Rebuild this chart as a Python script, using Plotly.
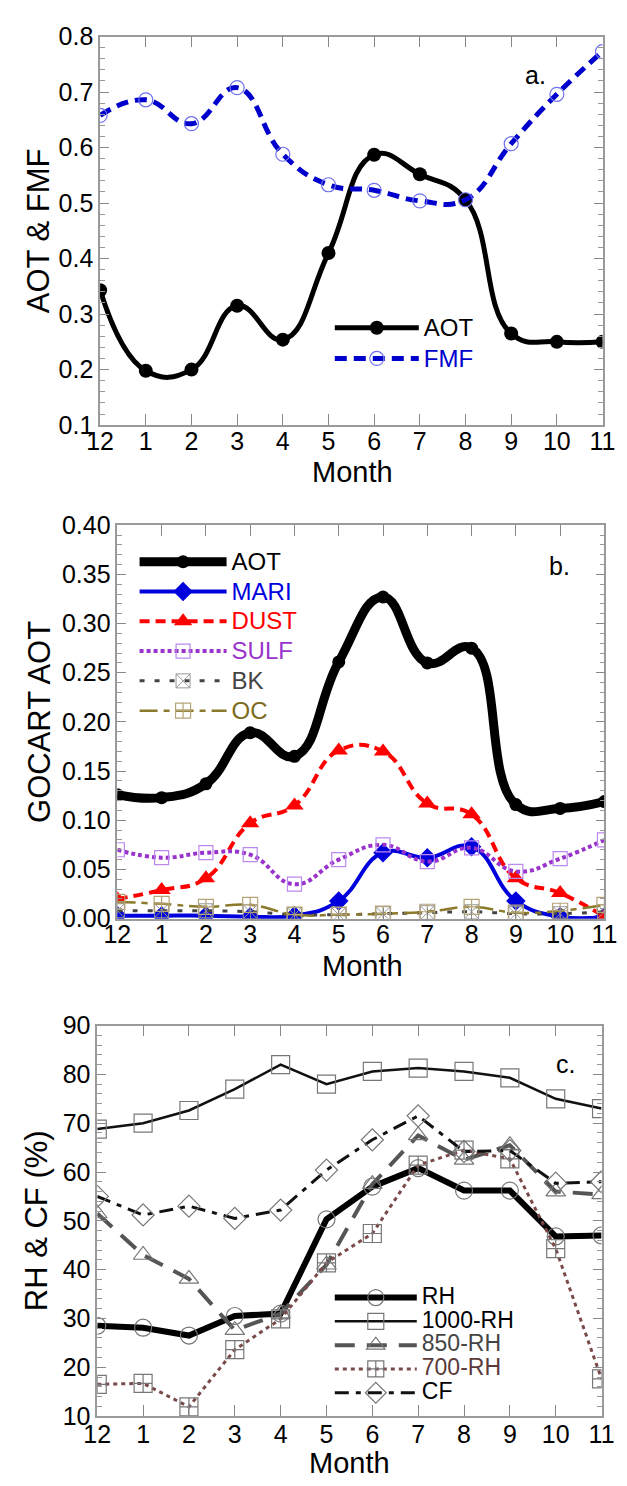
import plotly.graph_objects as go

months = ['12', '1', '2', '3', '4', '5', '6', '7', '8', '9', '10', '11']

# Panel a
aot_a = [0.343, 0.198, 0.200, 0.315, 0.254, 0.410, 0.587, 0.552, 0.506, 0.265, 0.250, 0.250]
fmf_a = [0.658, 0.686, 0.643, 0.708, 0.588, 0.533, 0.523, 0.504, 0.506, 0.607, 0.696, 0.773]

# Panel b (GOCART)
aot_b = [0.126, 0.123, 0.137, 0.189, 0.165, 0.261, 0.327, 0.260, 0.275, 0.116, 0.112, 0.119]
mari_b = [0.003, 0.003, 0.003, 0.002, 0.003, 0.018, 0.067, 0.062, 0.073, 0.018, 0.002, 0.002]
dust_b = [0.020, 0.029, 0.041, 0.097, 0.115, 0.171, 0.170, 0.117, 0.106, 0.041, 0.026, 0.002]
sulf_b = [0.070, 0.062, 0.067, 0.065, 0.035, 0.060, 0.075, 0.058, 0.072, 0.048, 0.061, 0.080]
bk_b = [0.008, 0.008, 0.008, 0.007, 0.004, 0.004, 0.005, 0.006, 0.007, 0.005, 0.005, 0.007]
oc_b = [0.017, 0.015, 0.012, 0.014, 0.004, 0.004, 0.005, 0.007, 0.012, 0.006, 0.008, 0.014]

# Panel c
rh_c = [28.5, 28.1, 26.5, 30.5, 31.0, 50.3, 57.0, 60.8, 56.2, 56.2, 46.8, 47.0]
rh1000_c = [68.8, 70.0, 72.6, 77.0, 82.0, 78.0, 80.6, 81.3, 80.6, 79.3, 75.0, 73.0]
rh850_c = [51.5, 43.0, 38.1, 27.6, 31.0, 41.0, 57.5, 67.5, 62.5, 65.5, 56.0, 55.4]
rh700_c = [16.5, 16.7, 11.9, 23.6, 29.9, 41.4, 47.4, 61.4, 64.5, 62.7, 44.3, 17.6]
cf_c = [55.0, 51.2, 53.0, 50.5, 52.2, 60.4, 66.6, 71.5, 64.2, 64.4, 57.7, 58.0]

FONT = 'Liberation Sans'
W, H = 627, 1486


def lab(txt, color='black', size=24):
    return '<span style="color:%s;font-size:%dpx">%s</span>' % (color, size, txt)


fig = go.Figure()

# ---- Panel a
fig.add_trace(go.Scatter(x=months, y=aot_a, name=lab('AOT'), xaxis='x', yaxis='y', legend='legend',
                         mode='lines+markers', line=dict(color='black', width=5, shape='spline', smoothing=1.3),
                         marker=dict(symbol='circle', size=14, color='black')))
fig.add_trace(go.Scatter(x=months, y=fmf_a, name=lab('FMF', '#0000cc'), xaxis='x', yaxis='y', legend='legend',
                         mode='lines+markers',
                         line=dict(color='#0000cc', width=5, dash='12px,7px', shape='spline', smoothing=1.3),
                         marker=dict(symbol='circle-open', size=14, color='#7070ee', line=dict(width=1.2))))

# ---- Panel b
fig.add_trace(go.Scatter(x=months, y=aot_b, name=lab('AOT'), xaxis='x2', yaxis='y2', legend='legend2',
                         mode='lines+markers', line=dict(color='black', width=9, shape='spline', smoothing=1.3),
                         marker=dict(symbol='circle', size=13, color='black')))
fig.add_trace(go.Scatter(x=months, y=mari_b, name=lab('MARI', '#0000dd'), xaxis='x2', yaxis='y2', legend='legend2',
                         mode='lines+markers', line=dict(color='#0000dd', width=4, shape='spline', smoothing=1.3),
                         marker=dict(symbol='diamond', size=15, color='#0000dd')))
fig.add_trace(go.Scatter(x=months, y=dust_b, name=lab('DUST', '#ff0000'), xaxis='x2', yaxis='y2', legend='legend2',
                         mode='lines+markers',
                         line=dict(color='#ff0000', width=4, dash='10px,6px', shape='spline', smoothing=1.3),
                         marker=dict(symbol='triangle-up', size=16, color='#ff0000')))
fig.add_trace(go.Scatter(x=months, y=sulf_b, name=lab('SULF', '#9933cc'), xaxis='x2', yaxis='y2', legend='legend2',
                         mode='lines+markers',
                         line=dict(color='#9933cc', width=4, dash='4px,3px', shape='spline', smoothing=1.3),
                         marker=dict(symbol='square-open', size=14, color='#bb88ee', line=dict(width=1.2))))
fig.add_trace(go.Scatter(x=months, y=bk_b, name=lab('BK', '#444444'), xaxis='x2', yaxis='y2', legend='legend2',
                         mode='lines+markers',
                         line=dict(color='#444444', width=3, dash='5px,10px', shape='spline', smoothing=1.3),
                         marker=dict(symbol='square-x-open', size=14, color='#999999', line=dict(width=1))))
fig.add_trace(go.Scatter(x=months, y=oc_b, name=lab('OC', '#7d6a1a'), xaxis='x2', yaxis='y2', legend='legend2',
                         mode='lines+markers',
                         line=dict(color='#8b7a2b', width=2.5, dash='18px,6px,6px,6px', shape='spline', smoothing=1.3),
                         marker=dict(symbol='square-cross-open', size=15, color='#b5a378', line=dict(width=1.2))))

# ---- Panel c
fig.add_trace(go.Scatter(x=months, y=rh_c, name=lab('RH', 'black', 23), xaxis='x3', yaxis='y3', legend='legend3',
                         mode='lines+markers', line=dict(color='black', width=6),
                         marker=dict(symbol='circle-open', size=17, color='#777777', line=dict(width=1.2))))
fig.add_trace(go.Scatter(x=months, y=rh1000_c, name=lab('1000-RH', 'black', 23), xaxis='x3', yaxis='y3',
                         legend='legend3', mode='lines+markers', line=dict(color='#111111', width=2.5),
                         marker=dict(symbol='square-open', size=18, color='#777777', line=dict(width=1.2))))
fig.add_trace(go.Scatter(x=months, y=rh850_c, name=lab('850-RH', '#444444', 23), xaxis='x3', yaxis='y3',
                         legend='legend3', mode='lines+markers', line=dict(color='#555555', width=4, dash='20px,12px'),
                         marker=dict(symbol='triangle-up-open', size=17, color='#777777', line=dict(width=1.2))))
fig.add_trace(go.Scatter(x=months, y=rh700_c, name=lab('700-RH', '#5a3a3a', 23), xaxis='x3', yaxis='y3',
                         legend='legend3', mode='lines+markers', line=dict(color='#7a4a4a', width=3, dash='4px,4px'),
                         marker=dict(symbol='square-cross-open', size=18, color='#777777', line=dict(width=1.2))))
fig.add_trace(go.Scatter(x=months, y=cf_c, name=lab('CF', 'black', 23), xaxis='x3', yaxis='y3', legend='legend3',
                         mode='lines+markers', line=dict(color='#111111', width=3, dash='14px,7px,5px,7px'),
                         marker=dict(symbol='diamond-open', size=17, color='#777777', line=dict(width=1.2))))

AXC = '#9a9a9a'


def xax(domain, anchor, standoff=-7):
    return dict(domain=domain, anchor=anchor, type='category', categoryorder='array', categoryarray=months,
                range=[0, 11], showline=True, linecolor=AXC, linewidth=1.5, mirror='ticks',
                ticks='inside', ticklen=11, tickcolor='#888888', tickwidth=1.3, ticklabelstandoff=standoff,
                tickfont=dict(family=FONT, size=25, color='black'), showgrid=False, zeroline=False)


def yax(domain, anchor, rng, dtick, minor_dtick, fmt, title, standoff):
    return dict(domain=domain, anchor=anchor, range=rng, dtick=dtick, tick0=0, tickformat=fmt,
                showline=True, linecolor=AXC, linewidth=1.5, mirror='ticks',
                ticks='inside', ticklen=9, tickcolor='#888888', tickwidth=1.3,
                minor=dict(dtick=minor_dtick, ticklen=5, tickcolor='#999999', ticks='inside'),
                tickfont=dict(family=FONT, size=25, color='black'), showgrid=False, zeroline=False,
                title=dict(text=title, font=dict(family=FONT, size=31, color='black'), standoff=standoff))


def px_x(v):
    return v / W


def px_y(v):
    return 1 - v / H


def note(text, x, y, size):
    return dict(text=text, x=px_x(x), y=px_y(y), xref='paper', yref='paper', showarrow=False,
                xanchor='center', yanchor='middle', font=dict(family=FONT, size=size, color='black'))


fig.update_layout(
    width=W, height=H, margin=dict(l=0, r=0, t=0, b=0),
    paper_bgcolor='white', plot_bgcolor='white',
    font=dict(family=FONT, color='black'),
    showlegend=True,
    xaxis=xax([px_x(90), px_x(615)], 'y'),
    yaxis=yax([px_y(419), px_y(23)], 'x', [0.1, 0.8], 0.1, 0.02, '.1f', 'AOT & FMF', 0),
    xaxis2=xax([px_x(108), px_x(617)], 'y2'),
    yaxis2=yax([px_y(922), px_y(521)], 'x2', [0, 0.40], 0.05, 0.01, '.2f', 'GOCART AOT', 2),
    xaxis3=xax([px_x(87), px_x(614)], 'y3', -5),
    yaxis3=yax([px_y(1429), px_y(1031)], 'x3', [10, 90], 10, 2, 'd', 'RH & CF (%)', 6),
    legend=dict(x=px_x(330), y=px_y(299), xanchor='left', yanchor='top', bgcolor='rgba(255,255,255,0)',
                font=dict(family=FONT, size=21.3, color='black'), itemwidth=84, tracegroupgap=0),
    legend2=dict(x=px_x(126), y=px_y(538), xanchor='left', yanchor='top', bgcolor='rgba(255,255,255,0)',
                 font=dict(family=FONT, size=20.6, color='black'), itemwidth=87, tracegroupgap=0),
    legend3=dict(x=px_x(330), y=px_y(1291), xanchor='left', yanchor='top', bgcolor='rgba(255,255,255,0)',
                 font=dict(family=FONT, size=16, color='black'), itemwidth=82, tracegroupgap=0),
    annotations=[
        note('a.', 545, 62, 25),
        note('b.', 570, 563, 25),
        note('c.', 576, 1070, 25),
        note('Month', 354, 467, 29),
        note('Month', 364, 970, 29),
        note('Month', 351, 1477, 29),
    ],
)

fig.write_html('out.html')
